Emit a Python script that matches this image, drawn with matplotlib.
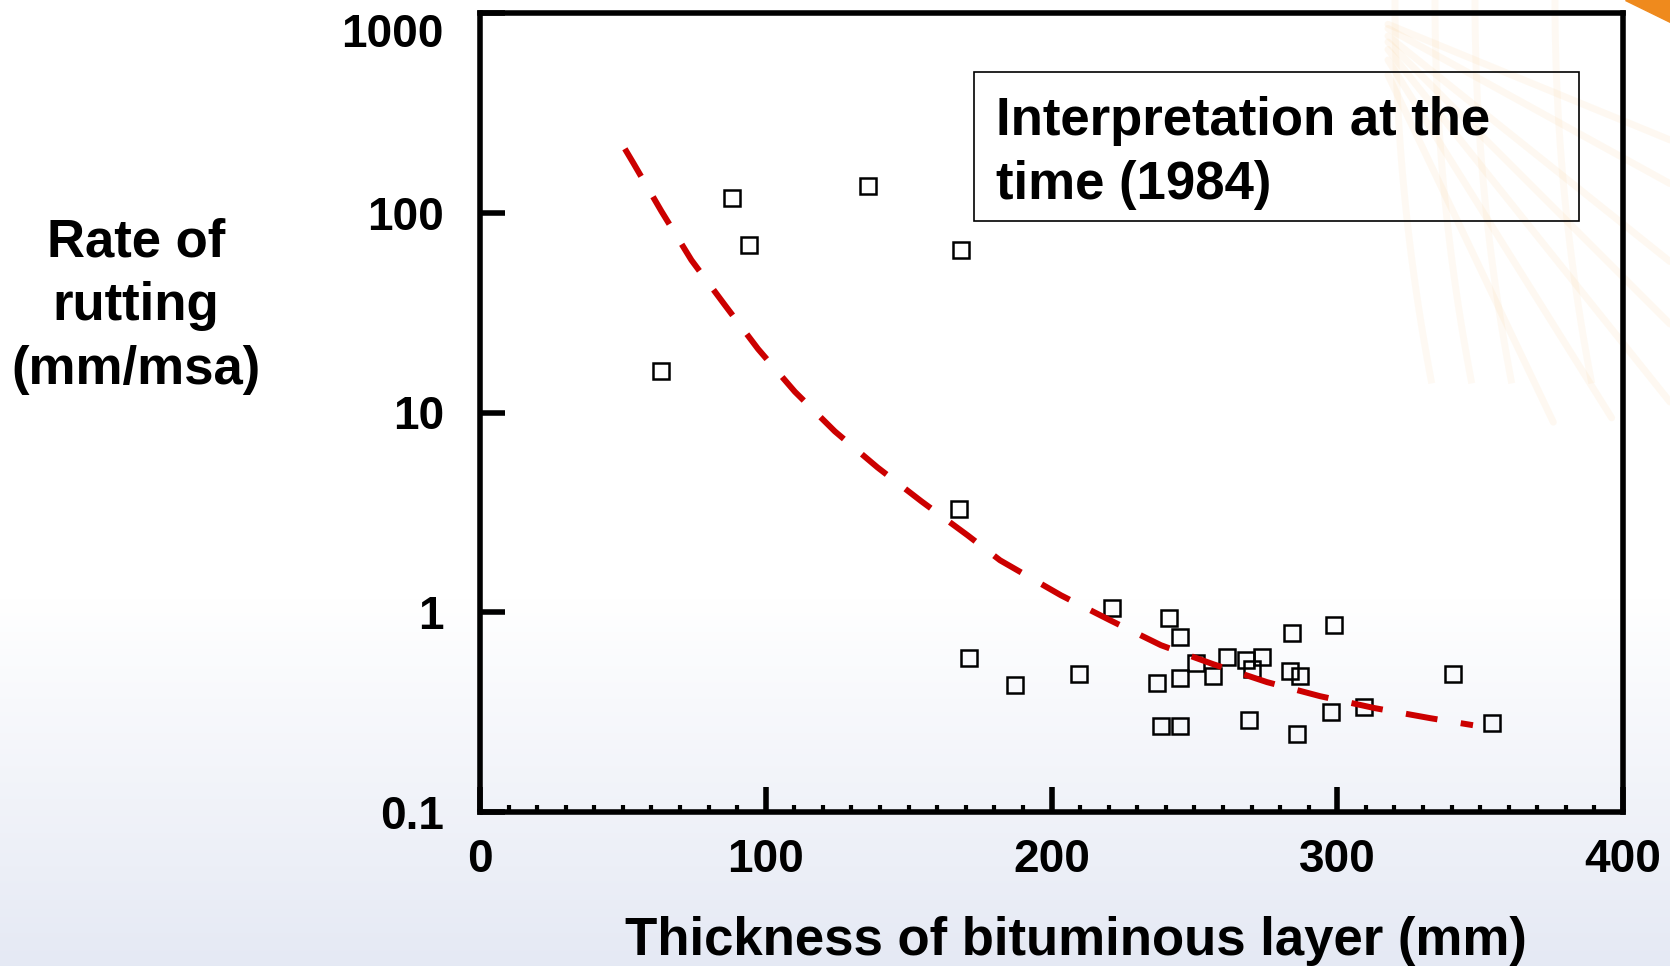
import numpy as np
import matplotlib.pyplot as plt
from matplotlib.patches import Rectangle
from matplotlib.ticker import FixedLocator, NullLocator

# measured sections: thickness of bituminous layer (mm) vs rate of rutting (mm/msa)
thickness = [63.4, 88.1, 94.1, 135.8, 168.2, 167.5, 171.2, 187.2, 209.6, 221.2,
             236.8, 238.3, 241.2, 245.0, 245.0, 245.0, 250.6, 256.5, 261.4, 268.0,
             270.3, 273.7, 269.2, 284.1, 283.4, 287.0, 286.0, 299.0, 297.9, 309.5,
             340.5, 354.2]
rate = [16.2, 119, 69, 136, 65, 3.27, 0.59, 0.43, 0.49, 1.05,
        0.44, 0.27, 0.94, 0.75, 0.47, 0.27, 0.556, 0.48, 0.60, 0.575,
        0.52, 0.60, 0.29, 0.785, 0.51, 0.48, 0.245, 0.86, 0.316, 0.335,
        0.49, 0.28]

# 1984 interpretation curve
curve_x = [50.7, 53.7, 63.5, 74.0, 85.7, 97.3, 110.2, 124.2, 139.1, 154.5,
           170.6, 182.0, 203.3, 220.5, 238.3, 256.5, 275.4, 294.0, 313.2,
           332.5, 347.5]
curve_y = [209, 177, 101.7, 57.9, 34.5, 20.8, 12.7, 8.04, 5.31, 3.59,
           2.43, 1.82, 1.216, 0.912, 0.684, 0.55, 0.447, 0.38, 0.331,
           0.295, 0.272]

x_ticks = [0, 100, 200, 300, 400]
y_ticks = [0.1, 1, 10, 100, 1000]
y_tick_labels = ['0.1', '1', '10', '100', '1000']

plt.rcParams['font.family'] = ['Liberation Sans', 'DejaVu Sans']
plt.rcParams['font.weight'] = 'bold'
plt.rcParams['axes.labelweight'] = 'bold'
plt.rcParams['lines.scale_dashes'] = False

W, H = 1670, 966
fig = plt.figure(figsize=(W / 100, H / 100), dpi=100)

# slide background: white fading to pale blue at the bottom
bg = fig.add_axes([0, 0, 1, 1], zorder=-10)
bg.set_axis_off()
rows = np.linspace(0, 1, H)
f = np.clip((rows - 0.62) / 0.38, 0, 1)[:, None]
top_c = np.array([1.0, 1.0, 1.0])
bot_c = np.array([0.898, 0.914, 0.957])
grad = (top_c * (1 - f) + bot_c * f)[:, None, :]
bg.imshow(grad, extent=[0, W, H, 0], aspect='auto')

# very faint orange fan of lines in the top right corner (slide decoration)
x0, y0 = 1358, 12
for m in [0.41, 0.55, 0.8, 1.0, 1.25, 1.6, 2.1]:
    xs = np.linspace(x0 + 30, W, 30)
    ys = y0 + m * (xs - x0)
    keep = ys < 430
    bg.plot(xs[keep], ys[keep], color='#f5a53c', alpha=0.07, lw=5,
            solid_capstyle='round')
for xv in [1395, 1435, 1475, 1555]:
    yy = np.linspace(0, 380, 50)
    bg.plot(xv + 0.00025 * yy ** 2, yy, color='#f5a53c', alpha=0.06, lw=5)
bg.fill([1625, W, W], [0, 0, 22], color='#ef8a1d')
bg.set_xlim(0, W)
bg.set_ylim(H, 0)

ax = fig.add_axes([480 / W, 1 - 812 / H, 1143 / W, 799 / H])
ax.set_facecolor('none')

ax.plot(thickness, rate, 's', ms=11, mfc='none', mec='black', mew=1.8, zorder=2)
ax.plot(curve_x, curve_y, color='#cc0000', lw=4.3, dashes=(23, 17),
        dash_capstyle='butt', zorder=3)

ax.set_yscale('log')
ax.set_xlim(0, 400)
ax.set_ylim(0.1, 1000)

ax.set_xticks(x_ticks)
ax.set_xticklabels([str(v) for v in x_ticks])
ax.xaxis.set_minor_locator(FixedLocator([v for v in range(10, 400, 10) if v % 100]))
ax.set_yticks(y_ticks)
ax.set_yticklabels(y_tick_labels)
ax.yaxis.set_minor_locator(NullLocator())

ax.tick_params(axis='x', which='major', direction='in', length=18, width=4,
               pad=19, labelsize=33)
ax.tick_params(axis='x', which='minor', direction='in', length=5, width=3)
ax.tick_params(axis='y', which='major', direction='in', length=18, width=4,
               pad=26, labelsize=33)
ax.get_yticklabels()[-1].set_va('top')

for s in ax.spines.values():
    s.set_linewidth(4)

ax.set_ylabel('Rate of\nrutting\n(mm/msa)', rotation=0, fontsize=38,
              ha='center', va='center', multialignment='center', linespacing=1.36)
ax.yaxis.set_label_coords(-0.301, 0.633)
ax.set_xlabel('Thickness of bituminous layer (mm)', fontsize=38, va='center')
ax.xaxis.set_label_coords(0.5214, -0.1618)

ax.add_patch(Rectangle((0.4322, 0.7397), 0.5293, 0.1865, transform=ax.transAxes,
                       fill=False, ec='black', lw=1.2, zorder=4))
ax.text(0.4514, 0.825, 'Interpretation at the\ntime (1984)', transform=ax.transAxes,
        fontsize=38, ha='left', va='center', linespacing=1.36, zorder=5)

fig.savefig('out.png', dpi=100)
